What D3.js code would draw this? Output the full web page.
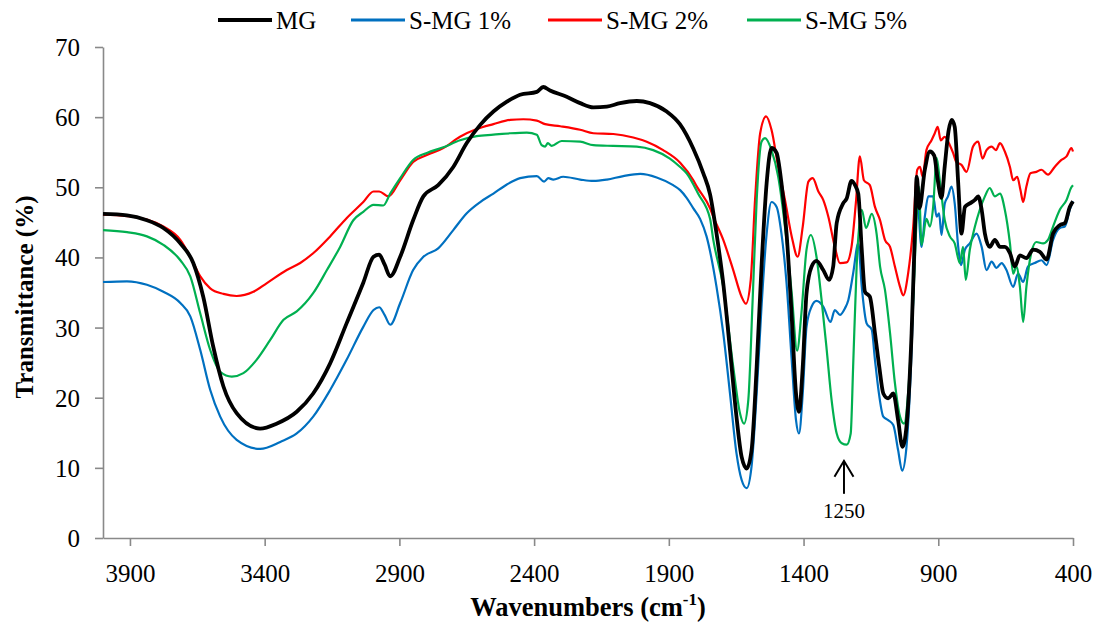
<!DOCTYPE html>
<html>
<head>
<meta charset="utf-8">
<script src="https://cdn.jsdelivr.net/npm/d3@7"></script>
<style>
  html, body { margin: 0; padding: 0; background: #fff; }
  svg { display: block; }
  text { font-family: "Times New Roman", "Liberation Serif", serif; fill: #000; }
</style>
</head>
<body>
<svg id="chart" width="1102" height="622"></svg>
<script>
// ---- Data (wavenumber cm-1, transmittance %) ----
const seriesNames = ["MG", "S-MG 1%", "S-MG 2%", "S-MG 5%"];
const xTickValues = [3900, 3400, 2900, 2400, 1900, 1400, 900, 400];
const yTickValues = [0, 10, 20, 30, 40, 50, 60, 70];

const mg = [[4000,46.2],[3911,46.0],[3837,45.3],[3776,44.2],[3713,42.0],[3665,39.2],[3628,34.4],[3591,27.3],[3553,21.6],[3504,17.8],[3417,15.6],[3356,16.3],[3281,18.0],[3220,20.6],[3157,24.9],[3096,30.6],[3034,36.4],[2996,40.1],[2975,40.4],[2955,39.0],[2934,37.3],[2897,40.1],[2849,45.3],[2811,48.7],[2756,50.3],[2700,52.9],[2650,56.3],[2600,58.9],[2551,60.8],[2501,62.2],[2452,63.2],[2390,63.6],[2366,64.3],[2341,63.8],[2279,62.9],[2229,62.0],[2180,61.4],[2130,61.5],[2081,62.0],[2019,62.3],[1970,62.0],[1908,60.8],[1859,59.0],[1809,55.5],[1772,52.0],[1747,49.0],[1723,43.4],[1698,36.3],[1673,26.8],[1649,17.3],[1630,11.6],[1611,9.9],[1593,12.5],[1574,24.4],[1556,38.7],[1537,50.6],[1519,55.6],[1500,54.9],[1482,50.6],[1463,43.4],[1444,31.6],[1428,20.6],[1417,18.0],[1403,24.4],[1389,34.9],[1370,38.7],[1352,39.5],[1327,38.2],[1305,36.8],[1290,38.7],[1277,44.9],[1253,47.7],[1240,48.4],[1222,50.9],[1209,50.3],[1197,49.1],[1184,41.1],[1172,35.1],[1154,34.4],[1135,29.2],[1119,24.4],[1104,20.6],[1086,19.9],[1067,20.6],[1049,16.8],[1033,13.0],[1018,15.9],[999,29.2],[987,43.4],[980,51.5],[970,47.0],[950,52.5],[931,55.1],[915,54.5],[903,51.3],[888,48.5],[876,53.0],[862,58.0],[850,59.6],[839,58.6],[826,50.6],[814,43.4],[801,47.2],[783,47.7],[764,48.2],[752,48.7],[739,46.8],[727,43.4],[709,41.5],[690,42.5],[671,41.5],[653,41.5],[634,40.6],[616,38.7],[597,40.3],[573,39.9],[548,41.1],[523,40.8],[498,39.7],[474,43.4],[449,44.6],[430,44.9],[412,47.2],[400,48.0]];

const smg1 = [[4000,36.5],[3911,36.6],[3837,36.1],[3776,35.1],[3713,33.5],[3676,31.6],[3639,26.8],[3602,21.1],[3565,17.3],[3504,14.0],[3417,12.7],[3342,13.7],[3281,14.9],[3220,17.3],[3157,21.1],[3096,25.4],[3034,30.1],[2996,32.5],[2975,32.9],[2955,31.8],[2934,30.4],[2897,33.5],[2849,38.2],[2811,40.1],[2756,41.3],[2700,43.9],[2650,46.3],[2600,47.9],[2551,49.1],[2501,50.4],[2452,51.3],[2390,51.6],[2363,50.8],[2347,51.3],[2329,51.1],[2292,51.5],[2229,51.1],[2180,50.9],[2130,51.1],[2069,51.6],[2006,51.9],[1945,51.4],[1884,50.3],[1858,49.6],[1834,48.5],[1809,47.0],[1784,45.5],[1760,43.0],[1723,35.8],[1698,29.2],[1673,20.6],[1649,12.1],[1630,8.3],[1611,7.1],[1593,10.2],[1574,20.6],[1556,33.0],[1537,43.4],[1519,47.9],[1500,47.2],[1482,43.4],[1463,36.3],[1444,25.4],[1428,16.8],[1417,14.9],[1403,20.6],[1389,30.1],[1370,33.0],[1352,33.8],[1327,33.0],[1300,30.8],[1284,32.5],[1265,31.8],[1247,32.7],[1234,33.9],[1216,37.7],[1197,42.0],[1184,35.8],[1166,30.6],[1147,29.7],[1135,25.4],[1122,21.1],[1104,17.3],[1086,16.8],[1067,16.1],[1049,12.5],[1034,9.6],[1018,13.0],[999,26.8],[987,41.1],[979,48.9],[962,41.5],[950,45.8],[937,48.7],[919,48.7],[906,45.8],[897,46.3],[888,43.2],[876,47.7],[864,48.7],[851,50.1],[839,47.7],[826,41.5],[816,38.9],[801,41.1],[783,42.0],[758,43.4],[739,41.5],[721,38.2],[702,39.4],[684,38.5],[665,39.2],[647,38.2],[622,35.8],[604,37.7],[585,36.5],[567,38.7],[542,39.2],[517,39.6],[498,38.9],[474,42.5],[449,44.2],[430,44.4],[412,46.8],[400,48.0]];

const smg2 = [[4000,46.1],[3911,45.9],[3837,45.4],[3776,44.4],[3713,42.5],[3676,40.1],[3639,37.3],[3602,35.6],[3553,34.8],[3504,34.5],[3442,35.1],[3393,36.3],[3318,38.2],[3268,39.2],[3220,40.6],[3157,43.0],[3096,45.6],[3034,47.9],[2996,49.4],[2975,49.4],[2941,48.7],[2897,51.0],[2849,53.6],[2798,54.6],[2737,55.6],[2675,57.2],[2613,58.3],[2551,59.0],[2489,59.6],[2440,59.7],[2390,59.5],[2359,59.0],[2303,58.7],[2229,58.2],[2180,57.7],[2106,57.6],[2032,57.1],[1982,56.5],[1921,55.3],[1858,53.5],[1809,51.0],[1796,50.1],[1747,47.0],[1735,45.8],[1698,42.5],[1661,38.2],[1630,34.4],[1614,33.4],[1596,36.8],[1580,48.2],[1561,57.7],[1539,60.1],[1519,58.2],[1494,52.9],[1469,48.2],[1444,43.0],[1422,40.1],[1403,44.4],[1382,50.8],[1366,51.3],[1345,49.4],[1327,48.2],[1308,45.8],[1284,41.5],[1265,39.2],[1240,39.3],[1222,41.5],[1206,47.7],[1191,54.4],[1176,51.0],[1154,50.3],[1135,47.2],[1116,45.3],[1098,42.5],[1079,41.5],[1061,38.7],[1042,35.8],[1030,34.6],[1012,37.7],[993,44.4],[978,52.5],[968,52.9],[958,51.5],[944,55.3],[925,56.7],[913,57.7],[902,58.6],[891,56.7],[876,57.2],[857,56.0],[845,54.9],[833,53.6],[814,53.2],[795,52.2],[771,55.8],[752,56.5],[736,54.1],[721,55.3],[702,55.8],[686,55.3],[671,56.3],[653,55.1],[634,52.9],[622,51.0],[607,51.5],[595,49.6],[585,47.9],[573,50.1],[558,52.0],[536,52.2],[517,52.5],[493,51.8],[468,52.9],[443,53.9],[424,54.4],[406,55.6],[400,55.1]];

const smg5 = [[4000,43.9],[3911,43.6],[3837,43.0],[3776,41.8],[3713,39.6],[3676,37.3],[3639,32.0],[3602,26.8],[3565,23.7],[3522,23.0],[3479,23.5],[3430,25.4],[3380,28.2],[3330,31.1],[3281,32.3],[3220,34.9],[3169,38.2],[3120,41.5],[3071,45.3],[3034,46.5],[2996,47.5],[2960,47.4],[2934,49.1],[2897,51.3],[2849,53.9],[2798,54.9],[2737,55.7],[2675,56.7],[2613,57.3],[2551,57.5],[2489,57.7],[2427,57.8],[2390,57.5],[2372,56.0],[2359,55.8],[2349,56.3],[2335,55.9],[2298,56.6],[2229,56.5],[2180,56.0],[2106,55.9],[2019,55.8],[1958,55.3],[1896,54.1],[1858,52.9],[1834,52.0],[1790,49.0],[1747,45.5],[1735,42.5],[1698,35.8],[1661,24.4],[1636,17.8],[1621,16.3],[1605,19.7],[1589,33.9],[1574,48.2],[1556,56.5],[1543,57.0],[1519,55.3],[1494,51.5],[1469,44.4],[1444,34.9],[1424,26.7],[1408,32.0],[1389,41.1],[1373,43.2],[1352,40.1],[1333,33.9],[1314,26.8],[1296,19.7],[1277,14.9],[1258,13.5],[1240,13.3],[1225,14.9],[1216,24.4],[1203,38.7],[1184,46.8],[1168,44.2],[1147,46.2],[1129,43.4],[1116,38.7],[1098,35.4],[1079,29.2],[1061,22.1],[1042,17.3],[1027,16.3],[1012,20.6],[993,33.9],[978,47.2],[972,50.1],[962,41.8],[944,45.5],[931,44.4],[919,47.2],[906,54.2],[894,50.8],[876,45.3],[857,43.0],[839,42.0],[820,39.2],[808,41.5],[798,36.8],[783,41.1],[764,44.4],[746,46.8],[727,48.7],[709,49.9],[690,48.7],[671,49.1],[653,46.8],[634,42.0],[622,37.7],[610,38.7],[597,35.8],[585,30.8],[573,35.8],[554,40.8],[536,42.2],[511,42.0],[493,42.5],[474,44.4],[449,46.8],[424,48.2],[406,50.0],[400,50.3]];

const annotationWn = 1250;
const annotationLabel = "1250";

(function draw() {
  const colors = ["#000000", "#0070C0", "#FF0000", "#00B050"];
  const widths = [3.8, 2.2, 2.2, 2.2];
  const datasets = [mg, smg1, smg2, smg5];

  const svg = d3.select("#chart");
  const pLeft = 103, pRight = 1073, pTop = 47, pBottom = 538;

  const x = d3.scaleLinear().domain([4000, 400]).range([pLeft, pRight]);
  const y = d3.scaleLinear().domain([0, 70]).range([pBottom, pTop]);
  const axisColor = "#898989";
  const fontFam = '"Times New Roman","Liberation Serif",serif';

  // X axis
  const gx = svg.append("g").attr("transform", `translate(0,${pBottom})`)
    .call(d3.axisBottom(x).tickValues(xTickValues).tickSize(8).tickSizeOuter(0).tickFormat(d3.format("d")));
  gx.select(".domain").attr("stroke", axisColor).attr("stroke-width", 1.6);
  gx.selectAll(".tick line").attr("stroke", axisColor).attr("stroke-width", 1.6);
  gx.selectAll(".tick text").attr("y", 44).attr("dy", 0)
    .style("font-size", "25px").style("font-family", fontFam).attr("fill", "#000");

  // Y axis
  const gy = svg.append("g").attr("transform", `translate(${pLeft},0)`)
    .call(d3.axisLeft(y).tickValues(yTickValues).tickSize(8).tickSizeOuter(0).tickPadding(15));
  gy.select(".domain").attr("stroke", axisColor).attr("stroke-width", 1.6);
  gy.selectAll(".tick line").attr("stroke", axisColor).attr("stroke-width", 1.6);
  gy.selectAll(".tick text").attr("dy", "0.34em")
    .style("font-size", "25px").style("font-family", fontFam).attr("fill", "#000");

  // Lines
  const line = d3.line()
    .x(d => x(d[0]))
    .y(d => y(d[1]))
    .curve(d3.curveMonotoneX);

  const drawOrder = [1, 2, 3, 0];
  drawOrder.forEach(i => {
    svg.append("path")
      .datum(datasets[i])
      .attr("fill", "none")
      .attr("stroke", colors[i])
      .attr("stroke-width", widths[i])
      .attr("stroke-linejoin", "round")
      .attr("d", line);
  });

  // Annotation arrow
  const ax = x(annotationWn);
  const tipY = y(11.0), baseY = y(6.3);
  svg.append("line").attr("x1", ax).attr("x2", ax).attr("y1", tipY).attr("y2", baseY)
    .attr("stroke", "#000").attr("stroke-width", 2);
  svg.append("path")
    .attr("d", `M${ax - 9.5},${tipY + 16} L${ax},${tipY} L${ax + 9.5},${tipY + 16}`)
    .attr("fill", "none").attr("stroke", "#000").attr("stroke-width", 2);
  svg.append("text").attr("x", ax).attr("y", 518).attr("text-anchor", "middle")
    .style("font-size", "21px").text(annotationLabel);

  // Axis titles
  const xt = svg.append("text").attr("x", 588).attr("y", 616).attr("text-anchor", "middle")
    .style("font-size", "26.5px").style("font-weight", "bold");
  xt.append("tspan").text("Wavenumbers (cm");
  xt.append("tspan").attr("dy", -11).style("font-size", "17px").text("-1");
  xt.append("tspan").attr("dy", 11).text(")");

  svg.append("text")
    .attr("transform", "translate(33,297) rotate(-90)")
    .attr("text-anchor", "middle")
    .style("font-size", "25px").style("font-weight", "bold")
    .text("Transmittance (%)");

  // Legend
  const legendLineX = [218, 351, 548, 747];
  const legendLineW = 54;
  seriesNames.forEach((name, i) => {
    const lx = legendLineX[i];
    svg.append("line").attr("x1", lx).attr("x2", lx + legendLineW).attr("y1", 20).attr("y2", 20)
      .attr("stroke", colors[i]).attr("stroke-width", i === 0 ? 4 : 3);
    svg.append("text").attr("x", lx + legendLineW + 4).attr("y", 29)
      .style("font-size", "25px").text(name);
  });
})();
</script>
</body>
</html>
